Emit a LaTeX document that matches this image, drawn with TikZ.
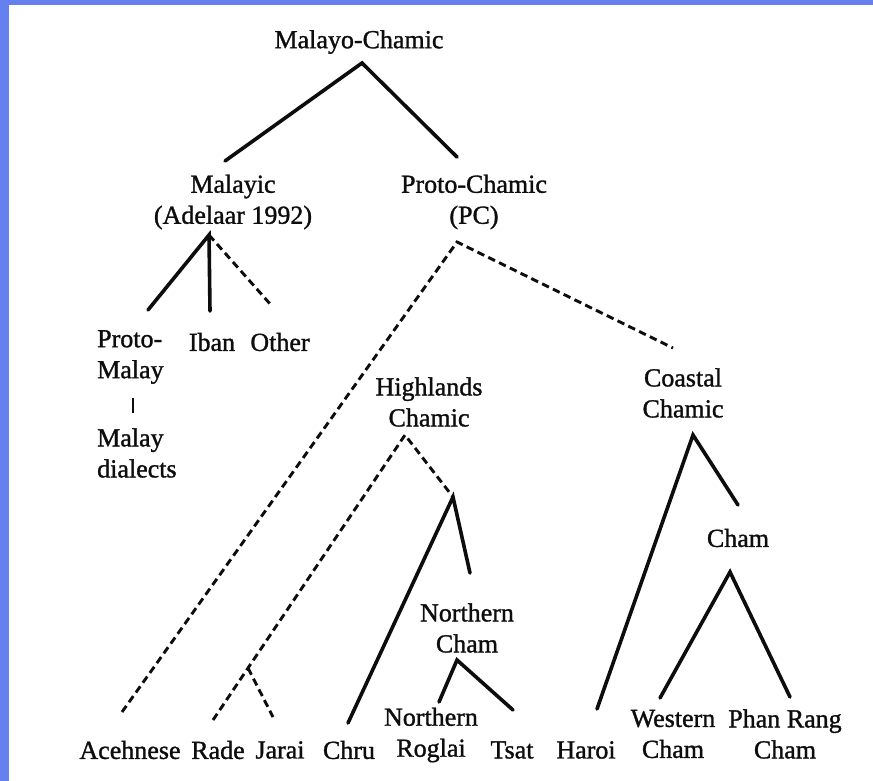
\documentclass[tikz,border=0pt]{standalone}
\usepackage{fontspec}
\setmainfont[FakeBold=1.2]{Liberation Serif}
\definecolor{frameblue}{RGB}{102,128,240}
\begin{document}
\begin{tikzpicture}[x=1pt,y=-1pt,
  lbl/.style={font=\fontsize{26}{31}\selectfont, inner sep=0pt, align=center, text=black!95},
  solidln/.style={line width=3.6pt, line cap=round, draw=black!95},
  dashln/.style={line width=2.9pt, dash pattern=on 7.5pt off 4.5pt, draw=black!95},
  pipeln/.style={line width=1.8pt, draw=black!95}]
\fill[frameblue] (0,0) rectangle (873,781);
\fill[white] (9,5) rectangle (873,781);
\useasboundingbox (0,0) rectangle (873,781);

% labels
\node[lbl] (mc) at (359,42) {Malayo-Chamic};
\node[lbl] (malayic) at (233,202) {Malayic\\(Adelaar 1992)};
\node[lbl] (pc) at (474,202) {Proto-Chamic\\(PC)};
\node[lbl, align=left, anchor=west] (pm) at (97,357) {Proto-\\Malay};
\node[lbl] (iban) at (212,342) {Iban};
\node[lbl] (other) at (280,342) {Other};
\node[lbl, align=left, anchor=west] (md) at (97,453) {Malay\\dialects};
\node[lbl] (hc) at (429,402) {Highlands\\Chamic};
\node[lbl] (cc) at (683,393) {Coastal\\Chamic};
\node[lbl] (cham) at (738,538) {Cham};
\node[lbl] (nc) at (467,628) {Northern\\Cham};
\node[lbl] (ace) at (130,750) {Acehnese};
\node[lbl] (rade) at (218,750) {Rade};
\node[lbl] (jarai) at (280,750) {Jarai};
\node[lbl] (chru) at (349,750) {Chru};
\node[lbl] (nr) at (431,735) {Northern\\Roglai};
\node[lbl] (tsat) at (512,750) {Tsat};
\node[lbl] (haroi) at (586,750) {Haroi};
\node[lbl] (wc) at (673,734) {Western\\Cham};
\node[lbl] (prc) at (785,734) {Phan Rang\\Cham};

% branch points and line ends
\coordinate (mcA) at (362,63);
\coordinate (mcL) at (225,161);
\coordinate (mcR) at (457,157);
\coordinate (mlA) at (209,235);
\coordinate (pmE) at (148,310);
\coordinate (ibE) at (210,311);
\coordinate (otE) at (271,305);
\coordinate (pipeT) at (133,398);
\coordinate (pipeB) at (133,413);
\coordinate (pcA) at (457,242);
\coordinate (aceE) at (122,712);
\coordinate (ccE) at (673,348);
\coordinate (hcA) at (405,435);
\coordinate (radeE) at (213,720);
\coordinate (rjJ) at (248,668);
\coordinate (jaraiE) at (273,717);
\coordinate (hrA) at (453,497);
\coordinate (chruE) at (348,723);
\coordinate (ncE) at (470,573);
\coordinate (ncA) at (457,660);
\coordinate (nrE) at (439,702);
\coordinate (tsatE) at (513,710);
\coordinate (ccA) at (693,435);
\coordinate (haroiE) at (597,709);
\coordinate (chamE) at (738,505);
\coordinate (chA) at (730,572);
\coordinate (wcE) at (660,698);
\coordinate (prE) at (790,697);

% connectors
\draw[solidln] (mcL) -- (mcA) -- (mcR);
\draw[solidln] (pmE) -- (mlA) -- (ibE);
\draw[dashln] (mlA) -- (otE);
\draw[pipeln] (pipeT) -- (pipeB);
\draw[dashln] (aceE) -- (pcA) -- (ccE);
\draw[dashln] (radeE) -- (hcA) -- (hrA);
\draw[dashln] (rjJ) -- (jaraiE);
\draw[solidln] (chruE) -- (hrA) -- (ncE);
\draw[solidln] (nrE) -- (ncA) -- (tsatE);
\draw[solidln] (haroiE) -- (ccA) -- (chamE);
\draw[solidln] (wcE) -- (chA) -- (prE);
\end{tikzpicture}
\end{document}
